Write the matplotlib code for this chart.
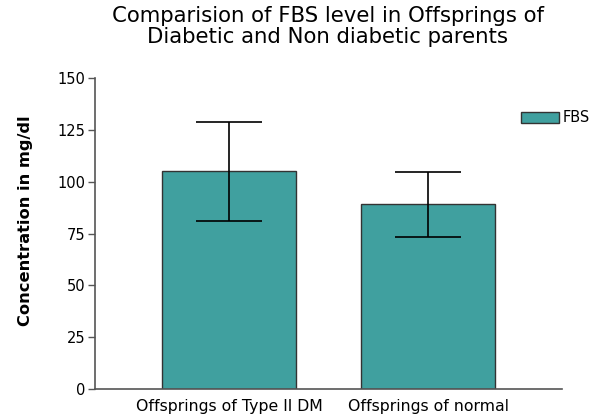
import matplotlib
matplotlib.use("Agg")
import matplotlib.pyplot as plt
import numpy as np

plt.rcParams.update({
    "font.family": ["DejaVu Sans"],
})

groups = ["Offsprings of Type II DM", "Offsprings of normal"]
fbs_mean = [105, 89]
fbs_sd = [24, 15.5]
yticks = [0, 25, 50, 75, 100, 125, 150]

BAR_COLOR = "#40a09f"

fig = plt.figure(figsize=(6.05, 4.17), dpi=100)
ax = fig.add_axes([95/605, 1 - 389/417, (562 - 95)/605, (389 - 78)/417])

x = np.arange(len(groups))
ax.bar(x, fbs_mean, width=0.67, color=BAR_COLOR, edgecolor="#333333",
       linewidth=1.0, label="FBS", zorder=2)
ax.errorbar(x, fbs_mean, yerr=fbs_sd, fmt="none", ecolor="black",
            elinewidth=1.2, capsize=24, capthick=1.2, zorder=3)

ax.set_xlim(-0.673, 1.673)
ax.set_ylim(0, 150)
ax.set_yticks(yticks)
ax.set_xticks(x)
ax.set_xticklabels(groups, fontsize=11.3)
ax.tick_params(axis="x", length=0, pad=7)
ax.tick_params(axis="y", length=5, width=1, color="#555555", labelsize=10.5, pad=2)
for s in ["top", "right"]:
    ax.spines[s].set_visible(False)
for s in ["left", "bottom"]:
    ax.spines[s].set_color("#555555")
    ax.spines[s].set_linewidth(1.2)

ax.set_ylabel("Concentration in mg/dl", fontsize=11.7, fontweight="bold")
ax.yaxis.set_label_coords(-0.133, 0.54)

# title centred over the axes, not the figure
fig.text(328/605, 1 - 6/417,
         "Comparision of FBS level in Offsprings of\nDiabetic and Non diabetic parents",
         ha="center", va="top", fontsize=15.3, linespacing=1.05)

fig.legend(loc="center left", bbox_to_anchor=(515/605, 1 - 118/417), frameon=False,
           fontsize=10.5, handlelength=2.6, handleheight=0.8, handletextpad=0.3,
           borderaxespad=0)

fig.savefig("out.png", dpi=100)
